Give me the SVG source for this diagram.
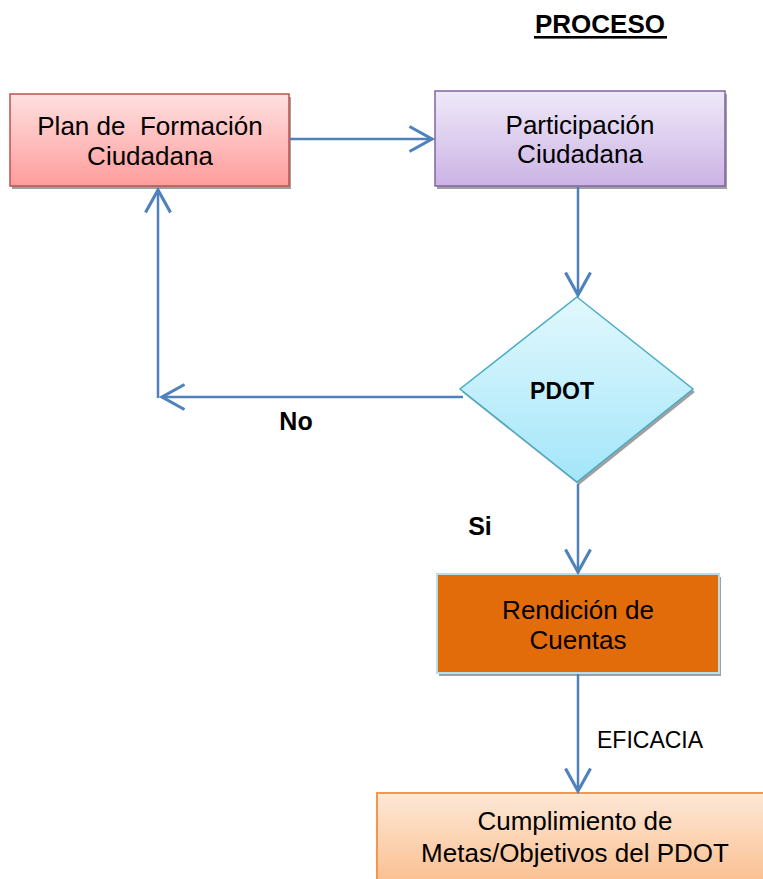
<svg xmlns="http://www.w3.org/2000/svg" width="763" height="879" viewBox="0 0 763 879">
<defs>
<linearGradient id="gPlan" x1="0" y1="0" x2="0" y2="1"><stop offset="0" stop-color="#ffe0e0"/><stop offset="1" stop-color="#ff9c9c"/></linearGradient>
<linearGradient id="gPart" x1="0" y1="0" x2="0" y2="1"><stop offset="0" stop-color="#efe9f8"/><stop offset="1" stop-color="#cbb3e4"/></linearGradient>
<linearGradient id="gDia" x1="0" y1="0" x2="0" y2="1"><stop offset="0" stop-color="#e2f8fd"/><stop offset="1" stop-color="#a3e6fa"/></linearGradient>
<linearGradient id="gCum" x1="0" y1="0" x2="0" y2="1"><stop offset="0" stop-color="#fde8d7"/><stop offset="1" stop-color="#fbbb88"/></linearGradient>
<marker id="arr" markerUnits="userSpaceOnUse" markerWidth="30" markerHeight="30" viewBox="-20 -12 24 24" refX="0" refY="0" orient="auto">
<path d="M-18,-10 L0,0 L-18,10" fill="none" stroke="#4f81bd" stroke-width="2.5"/>
</marker>
<style>
.t{font-family:"Liberation Sans",Arial,sans-serif;font-size:26px;fill:#000;text-anchor:middle;white-space:pre}
.b{font-family:"Liberation Sans",Arial,sans-serif;font-weight:bold;fill:#000}
.sh{fill:#a0a0a0}
.c{fill:none;stroke:#4f81bd;stroke-width:2.5}
</style>
</defs>
<rect width="763" height="879" fill="#fff"/>
<g id="title">
<text class="b" x="600" y="33" font-size="26" text-anchor="middle">PROCESO</text>
<rect x="534" y="36" width="133" height="2.6" fill="#000"/>
</g>
<g id="plan">
<rect class="sh" x="12" y="97" width="279" height="92"/>
<rect x="10" y="94" width="279" height="92" fill="url(#gPlan)" stroke="#c0504d" stroke-width="1.5"/>
<text class="t" x="150" y="135" xml:space="preserve">Plan de  Formación</text>
<text class="t" x="150" y="165">Ciudadana</text>
</g>
<g id="participacion">
<rect class="sh" x="437" y="94" width="290" height="95"/>
<rect x="435" y="91" width="290" height="95" fill="url(#gPart)" stroke="#8064a2" stroke-width="1.5"/>
<text class="t" x="580" y="134">Participación</text>
<text class="t" x="580" y="163">Ciudadana</text>
</g>
<g id="pdot">
<polygon class="sh" points="579,300 695,392 579,485 462,392"/>
<polygon points="577,297 693,389 577,482 460,389" fill="url(#gDia)" stroke="#4bacc6" stroke-width="1.5"/>
<text class="b" x="562" y="399" font-size="23" text-anchor="middle">PDOT</text>
</g>
<g id="rendicion">
<rect class="sh" x="439" y="577" width="282" height="99"/>
<rect x="437" y="574" width="282" height="99" fill="#e36c0a" stroke="#b9dde9" stroke-width="2"/>
<text class="t" x="578" y="619">Rendición de</text>
<text class="t" x="578" y="649">Cuentas</text>
</g>
<g id="cumplimiento">
<rect x="377" y="793" width="400" height="100" fill="url(#gCum)" stroke="#f79646" stroke-width="2"/>
<text class="t" x="575" y="830">Cumplimiento de</text>
<text class="t" x="575" y="862">Metas/Objetivos del PDOT</text>
</g>
<g id="connectors">
<line class="c" x1="290" y1="139" x2="432" y2="139" marker-end="url(#arr)"/>
<line class="c" x1="578" y1="187" x2="578" y2="295" marker-end="url(#arr)"/>
<line class="c" x1="463" y1="397" x2="162" y2="397" marker-end="url(#arr)"/>
<line class="c" x1="158" y1="398" x2="158" y2="190" marker-end="url(#arr)"/>
<line class="c" x1="578" y1="484" x2="578" y2="572" marker-end="url(#arr)"/>
<line class="c" x1="578" y1="674" x2="578" y2="791" marker-end="url(#arr)"/>
</g>
<g id="labels">
<text class="b" x="296" y="430" font-size="25" text-anchor="middle">No</text>
<text class="b" x="480" y="535" font-size="25" text-anchor="middle">Si</text>
<text x="597" y="748" font-family="'Liberation Sans',Arial,sans-serif" font-size="23" fill="#000">EFICACIA</text>
</g>
</svg>
